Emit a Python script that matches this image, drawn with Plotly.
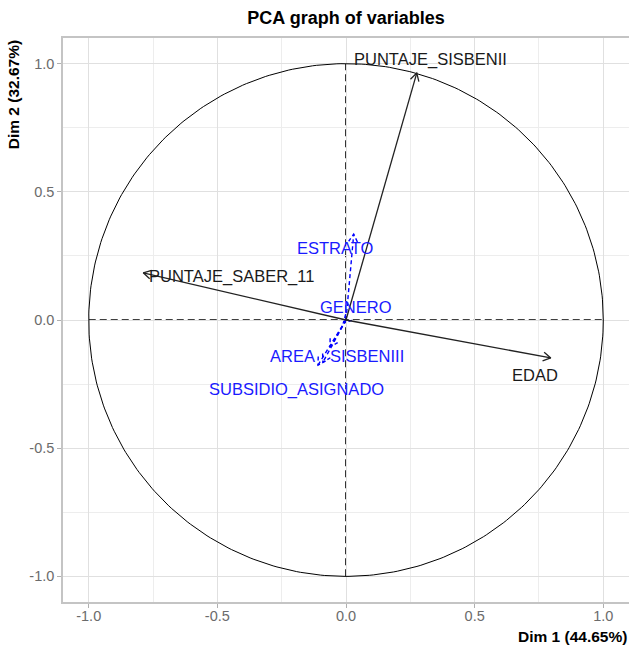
import numpy as np
import plotly.graph_objects as go

# Active variables: coordinates on the first two principal dimensions
active_vars = ["PUNTAJE_SISBENII", "PUNTAJE_SABER_11", "EDAD"]
active_dim1 = [0.275, -0.788, 0.796]
active_dim2 = [0.963, 0.184, -0.148]

# Supplementary quantitative variables
sup_vars = ["ESTRATO", "GENERO", "AREA", "SISBENIII", "SUBSIDIO_ASIGNADO"]
sup_dim1 = [0.030, -0.010, -0.090, -0.062, -0.109]
sup_dim2 = [0.335, -0.010, -0.165, -0.105, -0.176]

dim1_pct = 44.65
dim2_pct = 32.67
tick_vals = [-1.0, -0.5, 0.0, 0.5, 1.0]

# Label placement (repelled text positions, offsets from arrow tips)
active_shift = [(0.053, 0.053), (0.343, -0.016), (-0.060, -0.067)]
sup_shift = [(-0.069, -0.054), (0.049, 0.061), (-0.118, 0.024), (0.144, -0.036), (-0.083, -0.094)]

FONT = "Liberation Sans, Arial, sans-serif"
LABEL_SIZE = 16.5
HEAD_LEN = 0.034
HEAD_ANG = np.radians(30)


def arrow_path(x, y):
    """Shaft from the origin plus an open arrow head at (x, y)."""
    theta = np.arctan2(y, x)
    hx1 = x - HEAD_LEN * np.cos(theta + HEAD_ANG)
    hy1 = y - HEAD_LEN * np.sin(theta + HEAD_ANG)
    hx2 = x - HEAD_LEN * np.cos(theta - HEAD_ANG)
    hy2 = y - HEAD_LEN * np.sin(theta - HEAD_ANG)
    return [0, x, None, hx1, x, hx2], [0, y, None, hy1, y, hy2]


fig = go.Figure()

# Correlation circle
t = np.linspace(0, 2 * np.pi, 400)
fig.add_trace(go.Scatter(x=np.cos(t), y=np.sin(t), mode="lines",
                         line=dict(color="black", width=1), hoverinfo="skip"))

# Supplementary variables: blue dashed arrows
for name, x, y, (dx, dy) in zip(sup_vars, sup_dim1, sup_dim2, sup_shift):
    px, py = arrow_path(x, y)
    fig.add_trace(go.Scatter(x=px, y=py, mode="lines",
                             line=dict(color="#0000FF", width=1.4, dash="4px,3px"),
                             hoverinfo="skip"))
    fig.add_annotation(x=x + dx, y=y + dy, text=name, showarrow=False,
                       font=dict(family=FONT, size=LABEL_SIZE, color="#1a1aff"),
                       xanchor="center", yanchor="middle")

# Active variables: black solid arrows
for name, x, y, (dx, dy) in zip(active_vars, active_dim1, active_dim2, active_shift):
    px, py = arrow_path(x, y)
    fig.add_trace(go.Scatter(x=px, y=py, mode="lines",
                             line=dict(color="#222222", width=1.3),
                             hoverinfo="skip"))
    fig.add_annotation(x=x + dx, y=y + dy, text=name, showarrow=False,
                       font=dict(family=FONT, size=LABEL_SIZE, color="#1a1a1a"),
                       xanchor="center", yanchor="middle")

# Axes through the origin
fig.add_shape(type="line", x0=-1, x1=1, y0=0, y1=0,
              line=dict(color="black", width=1.5, dash="7px,4px"), layer="below")
fig.add_shape(type="line", x0=0, x1=0, y0=-1, y1=1,
              line=dict(color="#333333", width=2, dash="7px,4px"), layer="below")

axis_common = dict(
    range=[-1.1, 1.1], tickvals=tick_vals,
    ticktext=[f"{v:.1f}" for v in tick_vals],
    showgrid=True, gridcolor="#e0e0e0", gridwidth=1.4,
    minor=dict(dtick=0.25, tick0=0, showgrid=True, gridcolor="#ededed", gridwidth=1.2),
    zeroline=False, showline=True, linecolor="#c4c4c4", linewidth=1.5,
    ticks="outside", ticklen=4, tickcolor="#b0b0b0", tickwidth=1,
    tickfont=dict(family=FONT, size=14.5, color="#6b6b6b"),
)

fig.update_layout(
    width=629, height=647,
    margin=dict(l=63, r=0, t=38, b=45),
    plot_bgcolor="white", paper_bgcolor="white",
    showlegend=False,
    xaxis=dict(**axis_common, mirror=True, ticklabelstandoff=-4),
    yaxis=dict(**axis_common),
    title=dict(text="<b>PCA graph of variables</b>", x=0.5, xref="paper",
               y=1 - 18 / 647, yref="container", yanchor="middle",
               font=dict(family=FONT, size=18, color="black")),
)

fig.add_annotation(text=f"<b>Dim 1 ({dim1_pct:.2f}%)</b>", xref="paper", yref="paper",
                   x=1, y=-0.062, xanchor="right", yanchor="middle", showarrow=False,
                   font=dict(family=FONT, size=15.5, color="black"))
fig.add_annotation(text=f"<b>Dim 2 ({dim2_pct:.2f}%)</b>", xref="paper", yref="paper",
                   x=-0.087, y=1, xanchor="center", yanchor="top", textangle=-90,
                   showarrow=False, font=dict(family=FONT, size=15.5, color="black"))

fig.write_html("out.html")
